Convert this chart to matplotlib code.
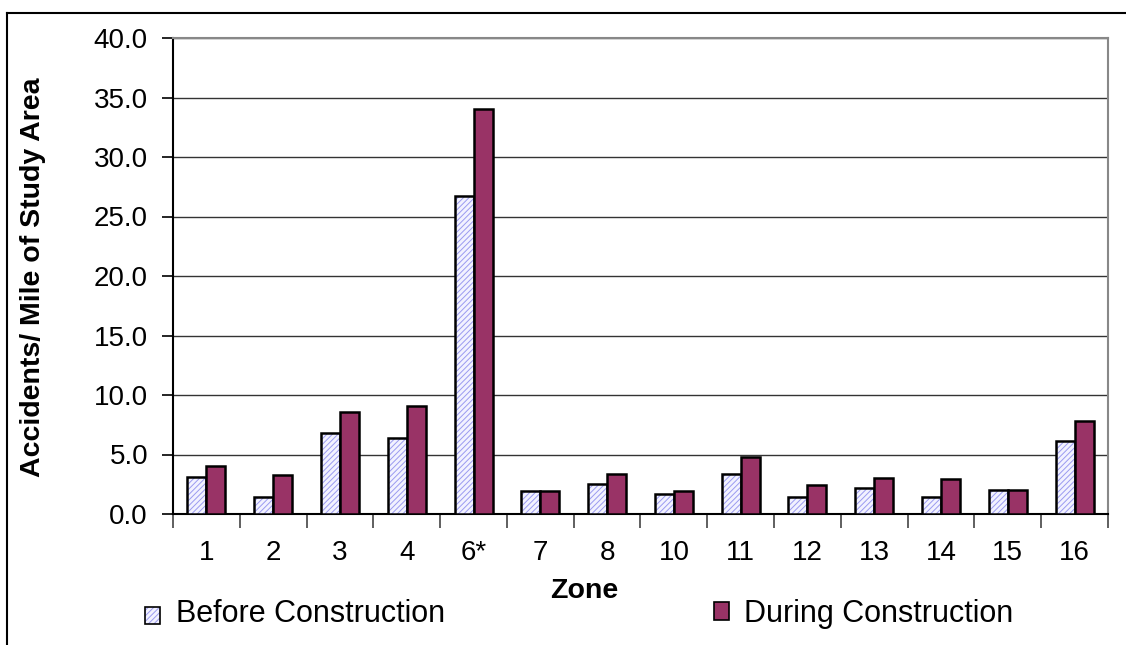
import matplotlib
matplotlib.use("Agg")
import matplotlib.pyplot as plt
import numpy as np
from matplotlib.patches import Patch
from matplotlib.lines import Line2D
from matplotlib.legend_handler import HandlerBase
from matplotlib.patches import Rectangle

plt.rcParams['font.family'] = ['Liberation Sans', 'DejaVu Sans']
plt.rcParams['hatch.linewidth'] = 0.7

zones = ["1", "2", "3", "4", "6*", "7", "8", "10", "11", "12", "13", "14", "15", "16"]
before = [3.1, 1.4, 6.8, 6.4, 26.7, 1.9, 2.5, 1.7, 3.4, 1.4, 2.2, 1.4, 2.0, 6.1]
during = [4.0, 3.3, 8.6, 9.1, 34.0, 1.9, 3.4, 1.9, 4.8, 2.4, 3.0, 2.9, 2.0, 7.8]
y_ticks = [0, 5, 10, 15, 20, 25, 30, 35, 40]

HATCH_FACE = '#f2f2ff'
HATCH_LINE = '#9a9af0'
PLUM = '#993366'

W, H = 1126, 645
fig = plt.figure(figsize=(W / 100, H / 100), dpi=100)
ax = fig.add_axes([173 / W, 1 - 514 / H, (1108 - 173) / W, (514 - 38) / H])

x = np.arange(len(zones))
bw = 0.285
# hatched fill first, then a black outline on top
ax.bar(x - bw / 2, before, bw, facecolor=HATCH_FACE, edgecolor=HATCH_LINE,
       hatch='//////', linewidth=0, zorder=3)
ax.bar(x - bw / 2, before, bw, facecolor='none', edgecolor='black',
       linewidth=1.8, zorder=4)
ax.bar(x + bw / 2, during, bw, facecolor=PLUM, edgecolor='black',
       linewidth=1.8, zorder=4)

ax.set_xlim(-0.5, len(zones) - 0.5)
ax.set_ylim(0, 40)
ax.set_yticks(y_ticks)
ax.set_yticklabels([f"{v:.1f}" for v in y_ticks], fontsize=20)
ax.yaxis.grid(True, color='#333333', linewidth=1.0, zorder=0)
ax.set_axisbelow(True)

ax.set_xticks(x)
ax.set_xticklabels(zones, fontsize=20)
ax.set_xticks(np.arange(-0.5, len(zones)), minor=True)
ax.tick_params(axis='x', which='major', length=0, pad=19)
ax.tick_params(axis='x', which='minor', length=10, width=1.2, color='#444444')
ax.tick_params(axis='y', length=8, width=1.2, pad=10)

for side in ('top', 'right'):
    ax.spines[side].set_color('#888888')
    ax.spines[side].set_linewidth(1.5)
ax.spines['left'].set_linewidth(1.5)
ax.spines['bottom'].set_linewidth(1.5)

ax.set_xlabel("Zone", fontsize=20.5, fontweight='bold')
ax.xaxis.set_label_coords((584 - 173) / (1108 - 173), -(591 - 514) / (514 - 38),
                          transform=ax.transAxes)
ax.xaxis.label.set_va('center')
ax.set_ylabel("Accidents/ Mile of Study Area", fontsize=20.5, fontweight='bold')
ax.yaxis.set_label_coords(-(173 - 33) / (1108 - 173), (514 - 277) / (514 - 38))
ax.yaxis.label.set_va('center')


class HatchBox(HandlerBase):
    def create_artists(self, legend, orig, xd, yd, width, height, fontsize, trans):
        fill = Rectangle((xd, yd), width, height, facecolor=HATCH_FACE,
                         edgecolor=HATCH_LINE, hatch='//////', linewidth=0, transform=trans)
        edge = Rectangle((xd, yd), width, height, facecolor='none',
                         edgecolor='black', linewidth=1.2, transform=trans)
        return [fill, edge]


handles = [Patch(facecolor=HATCH_FACE),
           Patch(facecolor=PLUM, edgecolor='black', linewidth=1.2)]
fig.legend(handles, ["Before Construction", "During Construction"], ncol=2,
           loc='center left', bbox_to_anchor=(145 / W, 1 - 614 / H), frameon=False,
           fontsize=22, handlelength=0.5, handleheight=0.5, handletextpad=0.5,
           columnspacing=8.8, borderaxespad=0, borderpad=0,
           handler_map={handles[0]: HatchBox()})

# outer chart border (top and left edges)
fig.add_artist(Line2D([7 / W, 1.0], [1 - 13 / H, 1 - 13 / H], transform=fig.transFigure,
                      color='black', linewidth=1.5))
fig.add_artist(Line2D([7 / W, 7 / W], [0, 1 - 13 / H], transform=fig.transFigure,
                      color='black', linewidth=1.5))

fig.savefig("out.png", dpi=100)
